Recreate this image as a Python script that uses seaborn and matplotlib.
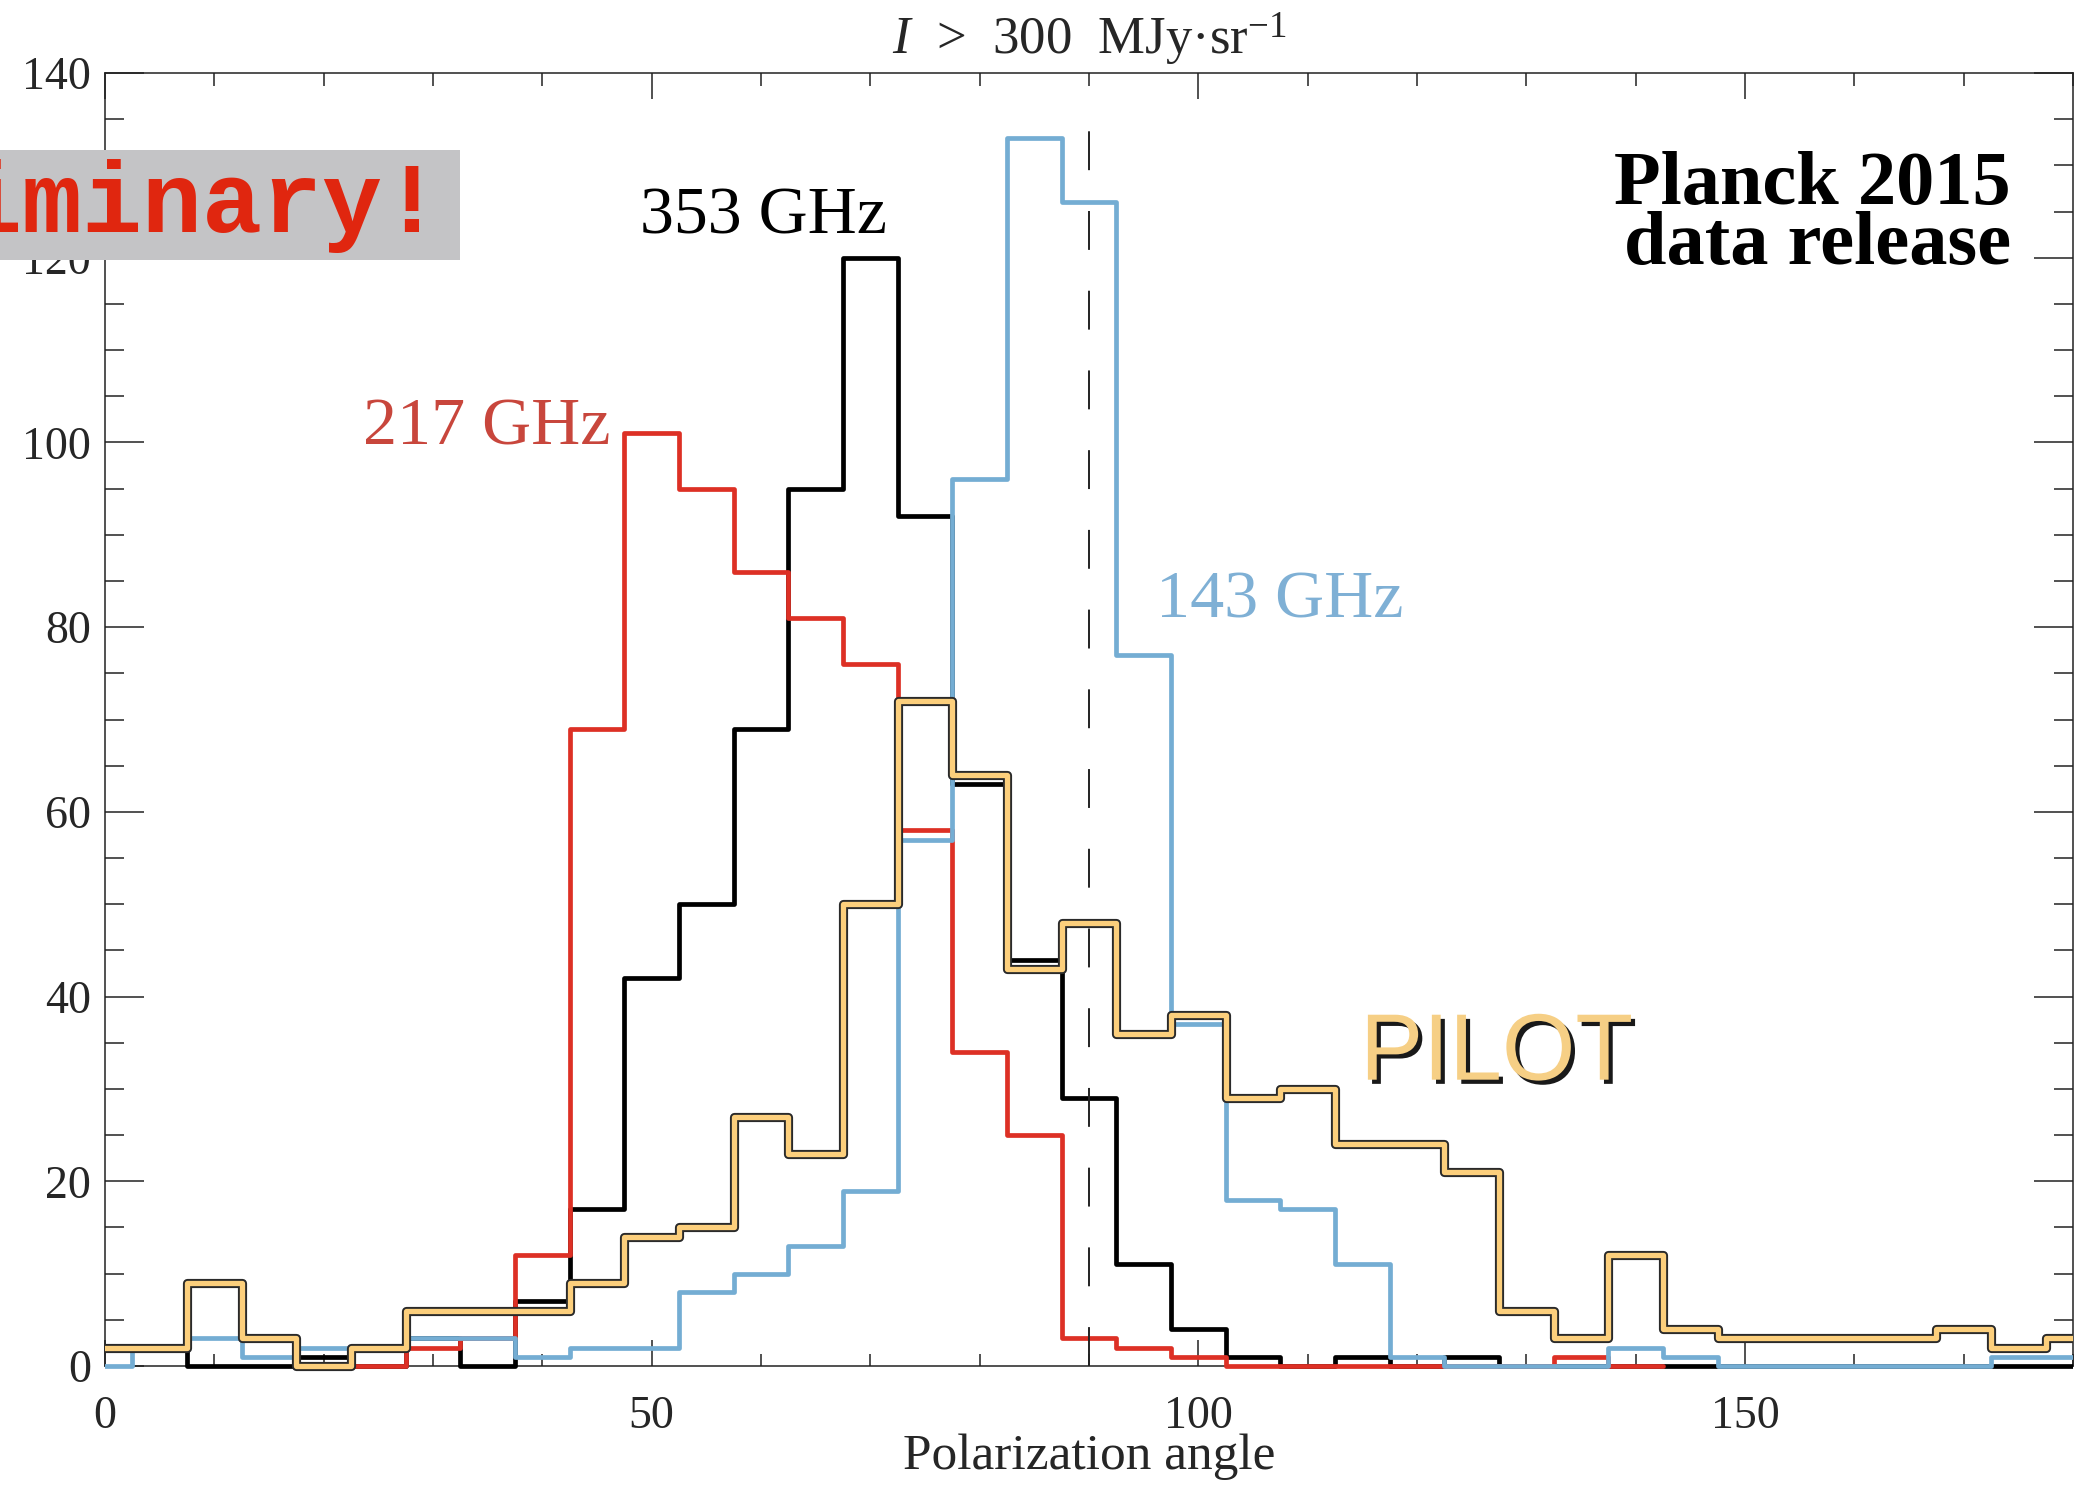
import numpy as np
import matplotlib
matplotlib.use("Agg")
import matplotlib.pyplot as plt
import matplotlib.patheffects as pe
from matplotlib.patches import Rectangle
import seaborn as sns

# ---------------- data (bin centres, 5 deg bins) ----------------
angles = [0, 5, 10, 15, 20, 25, 30, 35, 40, 45, 50, 55, 60, 65, 70, 75, 80, 85, 90,
          95, 100, 105, 110, 115, 120, 125, 130, 135, 140, 145, 150, 155, 160, 165,
          170, 175, 180]
red_217 = [0, 0, 0, 0, 0, 0, 2, 3, 12, 69, 101, 95, 86, 81, 76, 58, 34, 25, 3,
           2, 1, 0, 0, 0, 0, 0, 0, 1, 0, 0, 0, 0, 0, 0, 0, 0, 0]
black_353 = [2, 2, 0, 0, 1, 0, 3, 0, 7, 17, 42, 50, 69, 95, 120, 92, 63, 44, 29,
             11, 4, 1, 0, 1, 0, 1, 0, 0, 0, 0, 0, 0, 0, 0, 0, 0, 0]
blue_143 = [0, 2, 3, 1, 2, 2, 3, 3, 1, 2, 2, 8, 10, 13, 19, 57, 96, 133, 126,
            77, 37, 18, 17, 11, 1, 0, 0, 0, 2, 1, 0, 0, 0, 0, 0, 1, 1]
pilot = [2, 2, 9, 3, 0, 2, 6, 6, 6, 9, 14, 15, 27, 23, 50, 72, 64, 43, 48,
         36, 38, 29, 30, 24, 24, 21, 6, 3, 12, 4, 3, 3, 3, 3, 4, 2, 3]
bin_width = 5
x_major = [0, 50, 100, 150]
y_major = [0, 20, 40, 60, 80, 100, 120, 140]
ref_angle = 90

# ---------------- style ----------------
sns.set_style("ticks")
plt.rcParams['font.family'] = ['Liberation Serif', 'DejaVu Serif']
plt.rcParams['mathtext.fontset'] = 'custom'
plt.rcParams['mathtext.rm'] = 'Liberation Serif'
plt.rcParams['mathtext.it'] = 'Liberation Serif:italic'

W, H = 2077, 1486
fig = plt.figure(figsize=(W / 100, H / 100), dpi=100)
ax = fig.add_axes([105 / W, 1 - 1366 / H, (2073 - 105) / W, (1366 - 73) / H])

edges = [float(e) for e in np.arange(angles[0] - bin_width / 2, angles[-1] + bin_width, bin_width)]

clip_rect = Rectangle((0, -0.03), 1, 1.06, transform=ax.transAxes)


def step_hist(xs, ws, bins, color, lw, z, **kw):
    sns.histplot(x=list(xs), weights=list(ws), bins=list(bins), element="step", fill=False,
                 color=color, linewidth=lw, ax=ax, zorder=z, **kw)
    line = ax.lines[-1]
    line.set_clip_path(clip_rect)
    return line


# black 353 GHz
step_hist(angles, black_353, edges, "black", 3.4, 3)
# red 217 GHz (drawn from 25 deg to 140 deg)
step_hist(angles[5:29], red_217[5:29], edges[5:30], "#dd3025", 3.4, 4)
# blue 143 GHz
step_hist(angles, blue_143, edges, "#74add3", 3.4, 5)

# reference dashed line
ax.axvline(ref_angle, ymin=0, ymax=0.965, color="#222222", lw=1.4,
           dashes=(20, 21), zorder=6)

# PILOT
step_hist(angles, pilot, edges, "#fccf7c", 3.8, 7,
          path_effects=[pe.Stroke(linewidth=6.6, foreground="#2a2a2a"), pe.Normal()])

# ---------------- axes ----------------
ax.set_xlim(0, 180)
ax.set_ylim(0, 140)
ax.set_xticks(x_major)
ax.set_xticks(np.arange(0, 181, 10), minor=True)
ax.set_yticks(y_major)
ax.set_yticks(np.arange(0, 141, 5), minor=True)
ax.tick_params(axis='x', which='major', direction='in', length=19, width=1.1,
               top=True, bottom=True, labelsize=33, pad=21, color='#222222')
ax.tick_params(axis='x', which='minor', direction='in', length=9, width=1.1,
               top=True, bottom=True, color='#222222')
ax.tick_params(axis='y', which='major', direction='in', length=28, width=1.1,
               left=True, right=True, labelsize=33, pad=10, color='#222222')
ax.tick_params(axis='y', which='minor', direction='in', length=14, width=1.1,
               left=True, right=True, color='#222222')
for s in ax.spines.values():
    s.set_visible(True)
    s.set_linewidth(1.1)
    s.set_color('#222222')

ax.set_ylabel("")
ax.set_xlabel("Polarization angle", fontsize=37, labelpad=-3)
ax.set_title(r"$I$  >  300  MJy·sr$^{-1}$", fontsize=38, pad=13)

# ---------------- annotations ----------------
ax.text(48.9, 122.6, "353 GHz", fontsize=49, color="black", ha="left", va="baseline", zorder=10)
ax.text(23.6, 99.8, "217 GHz", fontsize=49, color="#c8463c", ha="left", va="baseline", zorder=10)
ax.text(96.1, 81.0, "143 GHz", fontsize=49, color="#7fb0d5", ha="left", va="baseline", zorder=10)
ax.text(174.3, 125.8, "Planck 2015", fontsize=55, fontweight="bold", color="black",
        ha="right", va="baseline", zorder=10)
ax.text(174.3, 119.3, "data release", fontsize=55, fontweight="bold", color="black",
        ha="right", va="baseline", zorder=10)
ax.text(114.8, 31.0, "PILOT", fontsize=68, family="Liberation Sans", color="#f6cf85",
        ha="left", va="baseline", zorder=10,
        path_effects=[pe.SimplePatchShadow(offset=(3, -3), shadow_rgbFace="black", alpha=0.9),
                      pe.Normal()])

# "Preliminary!" stamp
box = Rectangle((0, 1 - 260 / H), 460 / W, 110 / H, transform=fig.transFigure,
                facecolor="#c4c4c6", edgecolor="none", zorder=5)
fig.add_artist(box)
fig.text(442 / W, 1 - 232 / H, "Preliminary!", ha="right", va="baseline",
         family="Liberation Mono", fontweight="bold", fontsize=72, color="#e0260f", zorder=6)

fig.savefig("out.png", dpi=100)
